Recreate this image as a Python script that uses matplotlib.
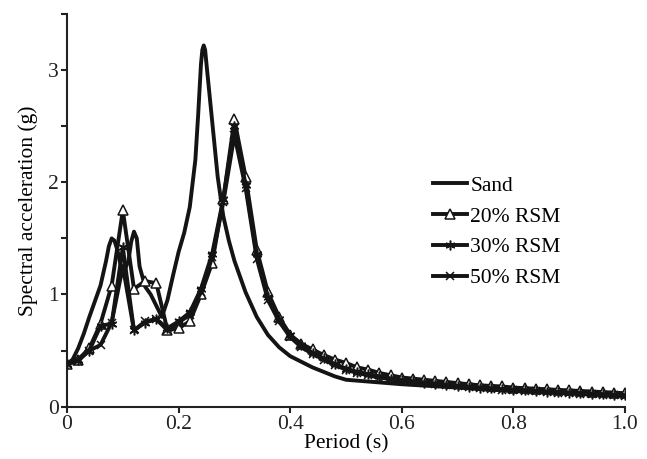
import matplotlib
matplotlib.use("Agg")
import matplotlib.pyplot as plt
from matplotlib.ticker import FixedLocator, FixedFormatter

# Sand (no markers)
sand_x = [0, 0.01, 0.02, 0.03, 0.04, 0.05, 0.06, 0.07, 0.075, 0.08, 0.085, 0.09, 0.1, 0.11,
          0.115, 0.12, 0.125, 0.13, 0.14, 0.15, 0.16, 0.17, 0.18, 0.19, 0.2, 0.21, 0.22,
          0.23, 0.235, 0.24, 0.2425, 0.245, 0.2475, 0.25, 0.255, 0.26, 0.27, 0.28, 0.29,
          0.3, 0.32, 0.34, 0.36, 0.38, 0.4, 0.42, 0.44, 0.46, 0.48, 0.5, 0.55, 0.6, 0.65,
          0.7, 0.75, 0.8, 0.85, 0.9, 0.95, 1.0]
sand_y = [0.38, 0.42, 0.52, 0.65, 0.8, 0.94, 1.08, 1.3, 1.43, 1.5, 1.48, 1.4, 1.18, 1.3,
          1.47, 1.56, 1.5, 1.25, 1.07, 1.0, 0.9, 0.8, 0.95, 1.17, 1.38, 1.55, 1.78,
          2.2, 2.6, 3.05, 3.18, 3.22, 3.18, 3.05, 2.8, 2.55, 2.05, 1.7, 1.48,
          1.3, 1.02, 0.8, 0.64, 0.53, 0.45, 0.4, 0.35, 0.31, 0.27, 0.24, 0.22, 0.2, 0.185,
          0.17, 0.155, 0.14, 0.13, 0.12, 0.11, 0.1]

# RSM mixes, sampled every 0.02 s
period = [0, 0.02, 0.04, 0.06, 0.08, 0.1, 0.12, 0.14, 0.16, 0.18, 0.2, 0.22, 0.24, 0.26,
          0.28, 0.3, 0.32, 0.34, 0.36, 0.38, 0.4, 0.42, 0.44, 0.46, 0.48, 0.5, 0.52, 0.54,
          0.56, 0.58, 0.6, 0.62, 0.64, 0.66, 0.68, 0.7, 0.72, 0.74, 0.76, 0.78, 0.8, 0.82,
          0.84, 0.86, 0.88, 0.9, 0.92, 0.94, 0.96, 0.98, 1.0]
rsm20 = [0.38, 0.42, 0.52, 0.74, 1.08, 1.75, 1.05, 1.12, 1.1, 0.68, 0.7, 0.76, 1.0, 1.28,
         1.85, 2.56, 2.05, 1.4, 1.02, 0.8, 0.64, 0.56, 0.51, 0.46, 0.42, 0.39, 0.35, 0.33,
         0.3, 0.28, 0.26, 0.25, 0.24, 0.23, 0.22, 0.21, 0.2, 0.19, 0.185, 0.18, 0.17, 0.165,
         0.16, 0.155, 0.15, 0.145, 0.14, 0.135, 0.13, 0.125, 0.12]
rsm30 = [0.38, 0.42, 0.5, 0.72, 0.74, 1.42, 0.68, 0.75, 0.78, 0.7, 0.76, 0.84, 1.05, 1.36,
         1.85, 2.5, 1.98, 1.36, 0.98, 0.78, 0.64, 0.55, 0.48, 0.43, 0.38, 0.34, 0.31, 0.29,
         0.27, 0.25, 0.235, 0.225, 0.215, 0.205, 0.195, 0.185, 0.178, 0.17, 0.163, 0.157,
         0.15, 0.145, 0.14, 0.135, 0.13, 0.125, 0.12, 0.115, 0.11, 0.105, 0.1]
rsm50 = [0.38, 0.41, 0.5, 0.55, 0.75, 1.25, 0.68, 0.76, 0.78, 0.68, 0.75, 0.82, 1.02, 1.33,
         1.82, 2.42, 1.95, 1.32, 0.95, 0.76, 0.62, 0.53, 0.47, 0.42, 0.37, 0.33, 0.3, 0.28,
         0.26, 0.245, 0.23, 0.22, 0.21, 0.2, 0.19, 0.18, 0.172, 0.165, 0.158, 0.152, 0.146,
         0.141, 0.136, 0.131, 0.126, 0.121, 0.116, 0.111, 0.106, 0.101, 0.096]

plt.rcParams['font.family'] = ['Liberation Serif', 'DejaVu Serif']

fig = plt.figure(figsize=(6.47, 4.59), dpi=100)
ax = fig.add_axes([0.1036, 0.114, 0.8624, 0.8555])

c = '#141414'
lw = 2.8
ax.plot(sand_x, sand_y, color=c, lw=lw, label='Sand', zorder=3,
        solid_joinstyle='round')
ax.plot(period, rsm20, color=c, lw=lw, marker='^', ms=7, mfc='white', mec=c, mew=1.1,
        label='20% RSM', zorder=4, solid_joinstyle='round')
ax.plot(period, rsm30, color=c, lw=lw, marker=(6, 2, 0), ms=7, mec=c, mew=1.1,
        label='30% RSM', zorder=4, solid_joinstyle='round')
ax.plot(period, rsm50, color=c, lw=lw, marker='x', ms=6, mec=c, mew=1.1,
        label='50% RSM', zorder=4, solid_joinstyle='round')

ax.set_xlim(0, 1.0)
ax.set_ylim(0, 3.5)
ax.xaxis.set_major_locator(FixedLocator([0, 0.2, 0.4, 0.6, 0.8, 1.0]))
ax.xaxis.set_major_formatter(FixedFormatter(['0', '0.2', '0.4', '0.6', '0.8', '1.0']))
ax.yaxis.set_major_locator(FixedLocator([0, 0.5, 1, 1.5, 2, 2.5, 3, 3.5]))
ax.yaxis.set_major_formatter(FixedFormatter(['0', '', '1', '', '2', '', '3', '']))

for s in ['top', 'right']:
    ax.spines[s].set_visible(False)
for s in ['left', 'bottom']:
    ax.spines[s].set_linewidth(1.5)
    ax.spines[s].set_color('#222222')
ax.tick_params(direction='out', length=4, width=1.5, labelsize=15.5, colors='#222222',
               pad=2)

ax.set_xlabel('Period (s)', fontsize=15.5, labelpad=0)
ax.set_ylabel('Spectral acceleration (g)', fontsize=15.5, labelpad=7)

ax.legend(loc='upper left', bbox_to_anchor=(0.64, 0.61), frameon=False, fontsize=15.5,
          handlelength=1.6, handletextpad=0.15, labelspacing=0.5, borderaxespad=0)

fig.savefig('out.png', dpi=100)
